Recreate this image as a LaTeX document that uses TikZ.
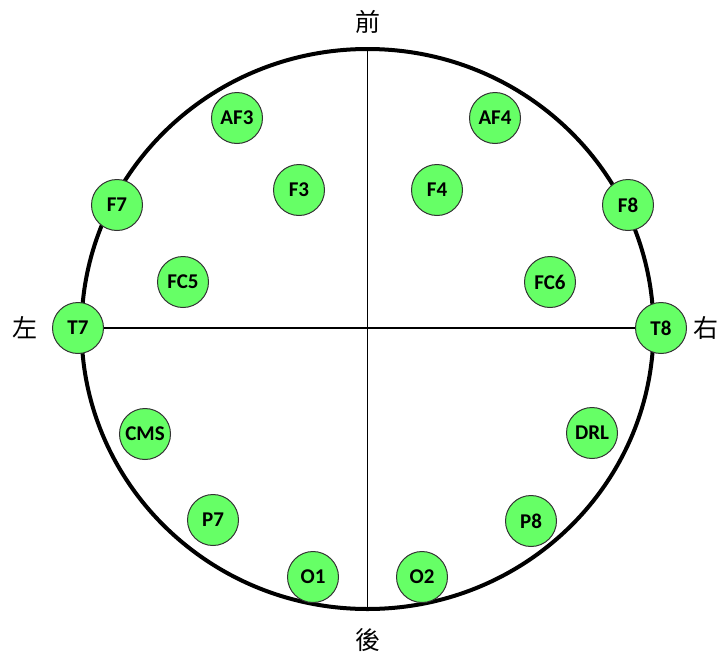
\documentclass[tikz,border=0pt]{standalone}
\usepackage{fontspec}
\setmainfont{Carlito}
\newfontfamily\cjk{Noto Sans CJK TC}
\definecolor{padgreen}{HTML}{66FF66}
\begin{document}
\begin{tikzpicture}[x=1pt, y=-1pt,
  every node/.style={font=\bfseries\fontsize{21}{21}\selectfont},
  pad/.style={circle, draw=black!80, line width=1pt, fill=padgreen, minimum size=51pt, inner sep=0pt},
  side/.style={font=\cjk\fontsize{25}{25}\selectfont}]
\useasboundingbox (0,0) rectangle (721,662);
% head outline
\draw[line width=4pt] (367.5,329) ellipse [x radius=286, y radius=280];
\coordinate (front) at (367.5,49);
\coordinate (back) at (367.5,609);
% sides
\node[side] (fr) at (368,22) {前};
\node[side] (bk) at (368,640) {後};
\node[side] (lt) at (25,328) {左};
\node[side] (rt) at (706,328) {右};
% left electrodes
\node[pad] (T7) at (78,328) {T7};
\node[pad] (AF3) at (237,118) {AF3};
\node[pad] (F3) at (299,190) {F3};
\node[pad] (F7) at (117,205) {F7};
\node[pad] (FC5) at (183,282) {FC5};
\node[pad] (CMS) at (145,434) {CMS};
\node[pad] (P7) at (213,520) {P7};
\node[pad] (O1) at (313,577) {O1};
% right electrodes
\node[pad] (T8) at (661,328) {T8};
\node[pad] (AF4) at (495,118) {AF4};
\node[pad] (F4) at (437,190) {F4};
\node[pad] (F8) at (628,205) {F8};
\node[pad] (FC6) at (550,282) {FC6};
\node[pad] (DRL) at (592,433) {DRL};
\node[pad] (P8) at (531,521) {P8};
\node[pad] (O2) at (422,577) {O2};
% axes
\draw[line width=1.2pt] (T7) -- (T8);
\draw[line width=1.2pt] (front) -- (back);
\end{tikzpicture}
\end{document}
